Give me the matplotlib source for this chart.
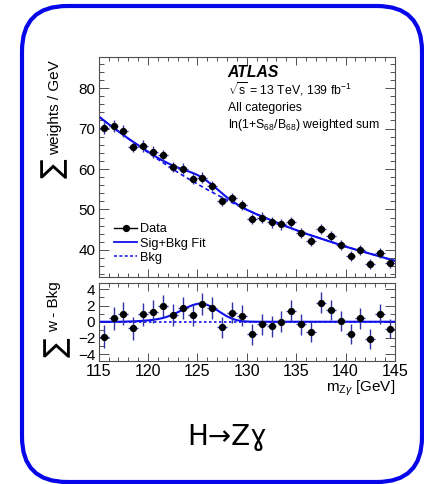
import numpy as np
import matplotlib
matplotlib.use("Agg")
import matplotlib.pyplot as plt
from matplotlib.patches import FancyBboxPatch
from matplotlib.lines import Line2D
from matplotlib.ticker import MultipleLocator

plt.rcParams['font.family'] = ['Liberation Sans', 'DejaVu Sans']
plt.rcParams['mathtext.fontset'] = 'custom'
plt.rcParams['mathtext.rm'] = 'Liberation Sans'
plt.rcParams['mathtext.it'] = 'Liberation Sans:italic'
plt.rcParams['mathtext.bf'] = 'Liberation Sans:bold'

# ---------------- data ----------------
mass = [115.5, 116.5, 117.5, 118.5, 119.5, 120.5, 121.5, 122.5, 123.5, 124.5,
        125.5, 126.5, 127.5, 128.5, 129.5, 130.5, 131.5, 132.5, 133.5, 134.5,
        135.5, 136.5, 137.5, 138.5, 139.5, 140.5, 141.5, 142.5, 143.5, 144.5]
weights = [70.2, 70.6, 69.4, 65.5, 65.7, 64.2, 63.4, 60.5, 60.1, 57.6,
           57.9, 55.8, 52.1, 52.8, 51.1, 47.7, 48.0, 46.8, 46.3, 46.8,
           44.2, 42.3, 45.2, 43.4, 41.2, 38.6, 40.0, 36.5, 39.3, 36.7]
weights_err = [1.45, 1.45, 1.45, 1.4, 1.4, 1.4, 1.4, 1.35, 1.35, 1.35,
               1.35, 1.35, 1.3, 1.3, 1.3, 1.3, 1.3, 1.3, 1.3, 1.3,
               1.3, 1.25, 1.3, 1.25, 1.25, 1.25, 1.25, 1.2, 1.25, 1.2]
resid = [-1.85, 0.41, 0.99, -0.82, 0.91, 1.23, 1.93, 0.82, 1.73, 0.82,
         2.18, 1.65, -0.70, 1.11, 0.74, -1.56, -0.29, -0.53, 0.0, 1.36,
         -0.29, -1.23, 2.35, 1.48, 0.08, -1.56, 0.41, -2.14, 0.99, -0.86]
resid_err = [1.4, 1.4, 1.4, 1.4, 1.4, 1.4, 1.4, 1.35, 1.35, 1.35,
             1.35, 1.35, 1.3, 1.3, 1.3, 1.3, 1.3, 1.3, 1.3, 1.3,
             1.3, 1.25, 1.3, 1.25, 1.25, 1.25, 1.25, 1.2, 1.25, 1.2]

# fit curves sampled every 0.5 GeV from 115 to 145
curve_mass = list(np.arange(115.0, 145.01, 0.5))
bkg_curve = [73.0, 72.05, 71.1, 70.2, 69.3, 68.4, 67.5, 66.65, 65.8, 64.95,
             64.1, 63.25, 62.4, 61.6, 60.8, 60.0, 59.2, 58.45, 57.7, 57.0,
             56.3, 55.6, 54.9, 54.25, 53.6, 52.95, 52.3, 51.7, 51.1, 50.5,
             49.9, 49.35, 48.8, 48.3, 47.8, 47.3, 46.8, 46.3, 45.8, 45.35,
             44.9, 44.45, 44.0, 43.6, 43.2, 42.8, 42.4, 42.0, 41.6, 41.2,
             40.8, 40.45, 40.1, 39.75, 39.4, 39.05, 38.7, 38.35, 38.0, 37.65,
             37.3]
sig_curve = [0.0, 0.0, 0.0, 0.0, 0.0, 0.01, 0.03, 0.05, 0.08, 0.12,
             0.17, 0.24, 0.33, 0.46, 0.65, 0.88, 1.17, 1.48, 1.79, 2.05,
             2.22, 2.24, 2.08, 1.80, 1.42, 1.03, 0.66, 0.38, 0.19, 0.08,
             0.03, 0.01, 0.0, 0.0, 0.0, 0.0, 0.0, 0.0, 0.0, 0.0,
             0.0, 0.0, 0.0, 0.0, 0.0, 0.0, 0.0, 0.0, 0.0, 0.0,
             0.0, 0.0, 0.0, 0.0, 0.0, 0.0, 0.0, 0.0, 0.0, 0.0,
             0.0]

legend_labels = ["Data", "Sig+Bkg Fit", "Bkg"]

# ---------------- style ----------------
W, H = 424, 484
BLUE = '#0f0fee'
ERRC = '#3232a8'
FRAME = '#505050'

fig = plt.figure(figsize=(W / 100, H / 100), dpi=100)

# rounded blue box
box = FancyBboxPatch((0.22, 0.02), 4.0, 4.76,
                     boxstyle="round,pad=0,rounding_size=0.45",
                     transform=fig.dpi_scale_trans, fill=False,
                     edgecolor='#0606e8', linewidth=3.0, zorder=0)
fig.patches.append(box)

def px(x0, y0, x1, y1):
    return [x0 / W, 1 - y1 / H, (x1 - x0) / W, (y1 - y0) / H]

ax1 = fig.add_axes(px(98.7, 57, 395, 277))
ax2 = fig.add_axes(px(98.7, 283.3, 395, 361), sharex=ax1)

cm = np.array(curve_mass)
bk = np.array(bkg_curve)
sg = np.array(sig_curve)

# top panel
ax1.plot(cm, bk, color=BLUE, lw=1.2, dashes=(2.5, 1.8), zorder=2)
ax1.plot(cm, bk + sg, color=BLUE, lw=1.5, zorder=2)
ax1.errorbar(mass, weights, yerr=weights_err, xerr=0.5, fmt='o', color='black',
             ms=4.2, ecolor=ERRC, elinewidth=1.0, capsize=0, zorder=3)
ax1.set_xlim(115, 145)
ax1.set_ylim(33.3, 87.7)
ax1.yaxis.set_major_locator(MultipleLocator(10))
ax1.yaxis.set_minor_locator(MultipleLocator(2))
ax1.tick_params(labelbottom=False)

# bottom panel
ax2.plot(cm, bk - bk, color=BLUE, lw=1.2, dashes=(1.5, 1.5), zorder=2)
ax2.plot(cm, sg, color=BLUE, lw=1.5, zorder=2)
ax2.errorbar(mass, resid, yerr=resid_err, xerr=0.5, fmt='o', color='black',
             ms=4.2, ecolor=ERRC, elinewidth=1.0, capsize=0, zorder=3)
ax2.set_ylim(-4.85, 4.75)
ax2.yaxis.set_major_locator(MultipleLocator(2))
ax2.yaxis.set_minor_locator(MultipleLocator(1))
ax2.xaxis.set_major_locator(MultipleLocator(5))
ax2.xaxis.set_minor_locator(MultipleLocator(1))

for ax in (ax1, ax2):
    for s in ax.spines.values():
        s.set_color(FRAME)
        s.set_linewidth(0.8)
    ax.tick_params(which='both', direction='in', top=True, right=True,
                   color=FRAME, width=0.7, labelsize=11, pad=2.5)
    ax.tick_params(axis='y', which='major', length=7)
    ax.tick_params(axis='y', which='minor', length=3.5)
    ax.tick_params(axis='x', which='major', length=6)
    ax.tick_params(axis='x', which='minor', length=3)
ax2.tick_params(axis='x', labelsize=11.5, pad=2)

# legend
handles = [Line2D([], [], color='black', marker='o', ms=4.2, lw=1.0),
           Line2D([], [], color=BLUE, lw=1.3),
           Line2D([], [], color=BLUE, lw=1.1, dashes=(2, 1.5))]
ax1.legend(handles, legend_labels, loc='upper left',
           bbox_to_anchor=((114 - 98.7) / 296.3, 0.244), frameon=False,
           fontsize=9.2, borderpad=0, borderaxespad=0, handlelength=1.8,
           handletextpad=0.25, labelspacing=0.18)

# labels in panel
tx = (227.7 - 98.7) / 296.3
ax1.text(tx, (277 - 77.3) / 220, "ATLAS", transform=ax1.transAxes,
         fontsize=11.3, fontweight='bold', fontstyle='italic', va='baseline')
ax1.text(tx, (277 - 95) / 220, r"$\sqrt{\mathrm{s}}$ = 13 TeV, 139 fb$^{-1}$",
         transform=ax1.transAxes, fontsize=8.8, va='baseline')
ax1.text(tx, (277 - 111) / 220, "All categories", transform=ax1.transAxes,
         fontsize=8.8, va='baseline')
ax1.text(tx, (277 - 128.3) / 220, r"ln(1+S$_{68}$/B$_{68}$) weighted sum",
         transform=ax1.transAxes, fontsize=8.8, va='baseline')

# axis titles
fig.text(55.5 / W, 1 - 108 / H, "weights / GeV", rotation=90, ha='center',
         va='center', fontsize=11)
fig.text(53.3 / W, 1 - 168.5 / H, "\u2211", rotation=90, ha='center',
         va='center', fontsize=21, family=['DejaVu Sans'])
fig.text(54.5 / W, 1 - 307 / H, "w - Bkg", rotation=90, ha='center',
         va='center', fontsize=11)
fig.text(56.5 / W, 1 - 347.5 / H, "\u2211", rotation=90, ha='center',
         va='center', fontsize=21, family=['DejaVu Sans'])
fig.text(395 / W, 1 - 391.5 / H, r"m$_{\mathrm{Z}\gamma}$ [GeV]", ha='right',
         va='baseline', fontsize=11)

# title
fig.text(227 / W, 1 - 445 / H, "H\u2192Z\u0263", ha='center', va='baseline',
         fontsize=20, family=['DejaVu Sans'])

fig.savefig("out.png", dpi=100)
